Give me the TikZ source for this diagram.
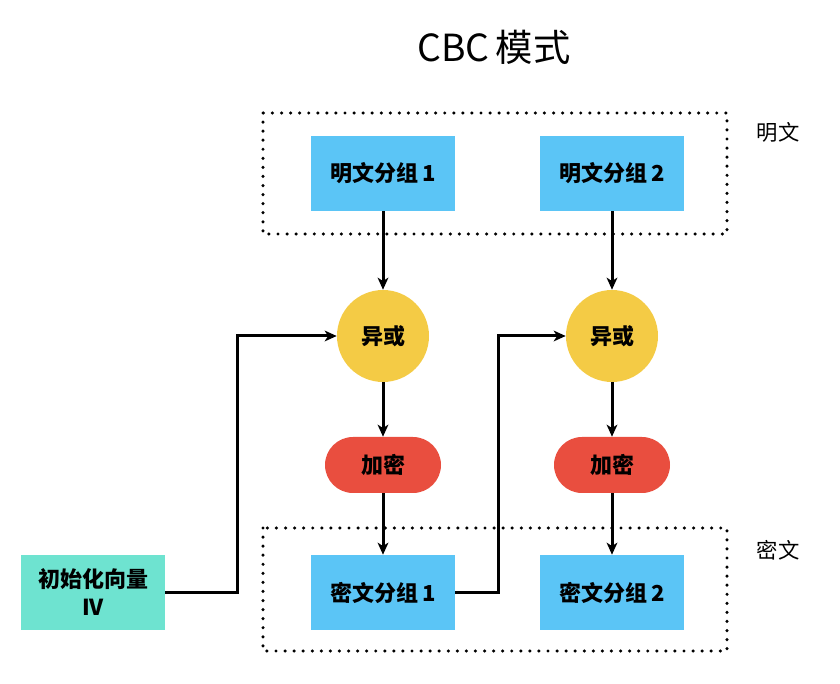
\documentclass[tikz,border=0pt]{standalone}
\usepackage{fontspec}
\usepackage{xcolor}
\usepackage{tikz}
\usetikzlibrary{arrows.meta}
\setmainfont{Noto Sans CJK SC}
\definecolor{plainblue}{HTML}{5BC5F6}
\definecolor{xoryellow}{HTML}{F4CB45}
\definecolor{encred}{HTML}{E94E3F}
\definecolor{ivteal}{HTML}{6EE3D0}

\begin{document}
\begin{tikzpicture}[x=0.75pt, y=-0.75pt,
  blk/.style={fill=plainblue, rectangle, minimum width=108pt, minimum height=56.25pt, font=\fontsize{16.5}{20}\selectfont\bfseries, inner sep=0pt},
  xorc/.style={fill=xoryellow, circle, minimum size=69pt, font=\fontsize{16.5}{20}\selectfont\bfseries, inner sep=0pt},
  enc/.style={fill=encred, rounded corners=21pt, minimum width=87pt, minimum height=42pt, font=\fontsize{16.5}{20}\selectfont\bfseries, inner sep=0pt},
  flow/.style={line width=2.25pt, -{Stealth[length=9pt, width=8pt, inset=2.5pt]}},
  grp/.style={line width=2.6pt, line cap=round, dash pattern=on 0pt off 6.8pt},
  side/.style={font=\fontsize{16}{19}\selectfont}]
\useasboundingbox (0,0) rectangle (840,684);
\node[font=\fontsize{28}{32}\selectfont] (title) at (494,47) {CBC\,模式};

\draw[grp] (263,113) rectangle (727,234);
\draw[grp] (263,528) rectangle (727,651);
\node[side] (ptlabel) at (778,132) {明文};
\node[side] (ctlabel) at (778,550) {密文};

\node[blk] (p1) at (383,173.5) {明文分组\,1};
\node[blk] (p2) at (612,173.5) {明文分组\,2};
\node[xorc] (x1) at (383,336) {异或};
\node[xorc] (x2) at (612,336) {异或};
\node[enc] (e1) at (383,465) {加密};
\node[enc] (e2) at (612,465) {加密};
\node[blk] (c1) at (383,592.5) {密文分组\,1};
\node[blk] (c2) at (612,592.5) {密文分组\,2};
\node[blk, fill=ivteal, align=center, font=\fontsize{16.5}{21}\selectfont\bfseries] (iv) at (93,592.5) {初始化向量\\IV};

\draw[flow] (p1) -- (x1);
\draw[flow] (x1) -- (e1);
\draw[flow] (e1) -- (c1);
\draw[flow] (p2) -- (x2);
\draw[flow] (x2) -- (e2);
\draw[flow] (e2) -- (c2);
\draw[flow] (iv.east) -| (237,336) -- (x1.west);
\draw[flow] (c1.east) -| (498,336) -- (x2.west);
\end{tikzpicture}
\end{document}
